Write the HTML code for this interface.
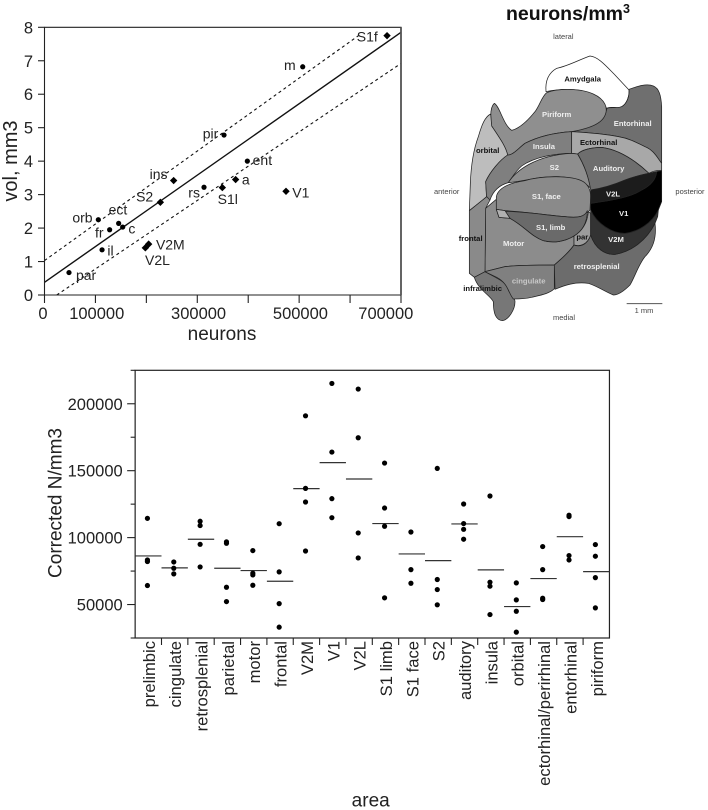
<!DOCTYPE html>
<html>
<head>
<meta charset="utf-8">
<title>Neuron density charts</title>
<style>
html,body{margin:0;padding:0;background:#fff;}
svg{display:block;font-family:"Liberation Sans",Arial,sans-serif;}
text{fill:#222;}
.b text{font-weight:bold;font-size:23px;text-anchor:middle;dominant-baseline:central;}
.b .w{fill:#efefef;}
.b .k{fill:#111;}
.b .n{font-weight:normal;font-size:22.5px;fill:#444;}
.b path{stroke:#222;stroke-width:2.2;stroke-linejoin:round;}
</style>
</head>
<body>
<svg id="fig" xmlns="http://www.w3.org/2000/svg" width="708" height="810" viewBox="0 0 708 810">
  <rect width="708" height="810" fill="#fff"/>
  <g id="scatter"></g>
  <g id="strip"></g>

  <text x="506" y="20" font-size="19.5" font-weight="bold" fill="#111" style="fill:#111">neurons/mm<tspan dy="-7" font-size="12.5">3</tspan></text>

  <g class="b" transform="translate(425,0) scale(0.33333)">
    <path fill="#ffffff" d="M363,275 C360,240 372,218 395,205 C430,198 465,178 495,168 C520,170 545,200 570,225 L612,270 C614,295 600,318 585,322 C570,325 555,318 545,325 C530,300 505,280 470,272 C430,265 395,268 363,275Z"/>
    <path fill="#6f6f6f" d="M612,268 C640,258 665,250 685,258 C702,265 708,285 710,320 L710,490 C695,470 685,450 660,440 C630,425 610,415 580,410 C540,402 490,398 440,395 C490,385 525,370 540,345 L546,325 C560,320 575,326 590,320 C605,312 614,290 612,268Z"/>
    <path fill="#8f8f8f" d="M365,278 C400,264 470,265 505,282 C540,298 552,325 538,350 C525,375 480,388 440,395 C390,398 340,410 300,430 C280,445 265,465 248,465 C242,440 228,420 200,378 C195,345 197,320 208,310 C225,320 235,375 260,391 C285,385 310,360 330,335 C345,315 350,290 365,278Z"/>
    <path fill="#bdbdbd" d="M197,342 C180,350 170,375 160,410 C145,450 138,500 136,550 L133,632 C150,618 170,605 185,590 L182,545 C195,515 225,480 248,465 C242,440 228,420 200,378 Z"/>
    <path fill="#7f7f7f" d="M248,465 C265,465 280,445 300,430 C340,410 390,398 440,395 L440,460 C395,460 330,470 290,498 C270,515 260,535 250,548 C225,555 205,570 195,600 L185,600 L182,545 C195,515 225,480 248,465Z"/>
    <path fill="#a8a8a8" d="M440,395 C490,398 540,402 580,410 C610,415 630,425 660,440 C685,450 695,470 710,490 L710,512 C695,510 680,515 672,520 C640,490 590,450 530,442 C500,442 470,450 458,462 L440,460 Z"/>
    <path fill="#8e8e8e" d="M250,548 C270,515 330,465 440,460 L458,462 C475,490 490,525 497,565 C480,545 440,532 400,530 C350,527 290,545 250,548Z"/>
    <path fill="#8c8c8c" d="M182,625 L214,598 L214,628 L222,652 L255,655 C300,680 320,710 355,722 C385,730 420,725 447,708 L447,735 C430,760 405,780 388,795 C340,795 280,795 240,800 L180,815 Z"/>
    <path fill="#8a8a8a" d="M133,632 L185,590 L195,600 L182,625 L180,815 L148,832 L133,820Z"/>
    <path fill="#8a8a8a" d="M214,590 C220,560 260,548 300,542 C350,527 440,525 475,545 C490,555 497,570 497,590 L495,630 C480,650 460,655 420,650 C360,645 300,635 240,632 L214,628 Z"/>
    <path fill="#6a6a6a" d="M240,634 C300,635 360,645 420,650 C460,655 480,650 487,632 C487,670 470,695 447,708 C420,725 385,730 355,722 C320,710 300,680 255,655 Z"/>
    <path fill="#b0b0b0" d="M214,628 L240,632 L255,655 L222,652 Z"/>
    <path fill="#777777" d="M148,832 L180,815 C215,835 245,845 250,870 C255,885 270,890 270,905 C270,930 250,960 232,962 C212,960 205,940 205,905 C195,885 160,870 148,832Z"/>
    <path fill="#808080" d="M180,815 L240,800 C280,795 340,795 388,795 L388,866 C375,880 350,885 320,892 C300,897 280,897 265,897 C250,880 250,850 215,832 Z"/>
    <path fill="#6c6c6c" d="M388,795 C405,780 430,760 447,735 C460,740 485,740 497,705 C510,745 540,765 570,763 C620,755 665,720 690,670 C695,710 685,745 660,770 C640,795 630,830 615,855 C600,870 580,885 565,885 C540,875 520,860 490,850 C450,845 420,855 390,868 Z"/>
    <path fill="#9c9c9c" d="M447,708 C470,695 487,670 490,635 L497,640 L497,705 C487,735 465,740 447,735Z"/>
    <path fill="#6e6e6e" d="M458,462 C470,450 500,442 530,442 C590,450 640,490 672,520 C640,525 600,540 565,555 C540,565 520,568 497,570 C490,525 475,490 458,462Z"/>
    <path fill="#333333" d="M497,630 C515,670 560,700 600,700 C640,695 680,670 700,630 L698,650 L690,670 C665,720 620,755 570,763 C540,765 510,745 497,705Z"/>
    <path fill="#000000" stroke="none" d="M497,610 C570,600 620,590 650,570 C680,555 693,535 695,515 L710,512 L710,605 L700,630 C680,670 640,695 600,700 C560,700 515,670 497,630 Z"/>
    <path fill="#1c1c1c" d="M497,570 C530,565 565,555 600,540 C640,525 670,520 695,515 C693,535 680,555 650,570 C620,590 570,600 497,610 Z"/>

    <text class="k" x="473" y="237">Amydgala</text>
    <text class="w" x="395" y="343">Piriform</text>
    <text class="w" x="623" y="370">Entorhinal</text>
    <text class="k" x="521" y="427">Ectorhinal</text>
    <text class="w" x="357" y="440">Insula</text>
    <text class="k" x="188" y="452">orbital</text>
    <text class="w" x="388" y="502">S2</text>
    <text class="w" x="551" y="505">Auditory</text>
    <text class="w" x="564" y="582">V2L</text>
    <text class="w" x="364" y="590">S1, face</text>
    <text class="w" x="596" y="640">V1</text>
    <text class="w" x="377" y="682">S1, limb</text>
    <text class="k" x="472" y="711">par</text>
    <text class="k" x="137" y="716">frontal</text>
    <text class="w" x="573" y="718">V2M</text>
    <text class="w" x="266" y="730">Motor</text>
    <text class="w" x="515" y="800">retrosplenial</text>
    <text class="w" x="311" y="843" style="fill:#c8c8c8">cingulate</text>
    <text class="k" x="173" y="865">infralimbic</text>

    <text class="n" x="415" y="110">lateral</text>
    <text class="n" x="65" y="575">anterior</text>
    <text class="n" x="795" y="575">posterior</text>
    <text class="n" x="417" y="953">medial</text>
    <line x1="605" x2="712" y1="911" y2="911" stroke="#555" stroke-width="3"/>
    <text class="n" x="657" y="932">1 mm</text>
  </g>
</svg>

<script>
// ---- scatter data ----
const pointNames = ["par","il","fr","ect","c","orb","S2","ins","rs","S1l","a","ent","pir","V1","m","S1f","V2M","V2L"];
const pointNeurons = [48100,113000,127900,145600,153500,105700,227500,253600,313200,349200,375300,398300,352500,474200,507000,672600,204500,198000];
const pointVolumes = [0.67,1.35,1.95,2.14,2.03,2.25,2.77,3.42,3.22,3.21,3.45,4.0,4.78,3.1,6.82,7.75,1.52,1.41];
const pointIsDiamond = [0,0,0,0,0,0,1,1,0,1,1,0,0,1,0,1,1,1];
const fitX = [0,700000];
const fitY = [0.38,7.85];
const upperX = [0,620000];
const upperY = [1.03,7.79];
const lowerX = [24000,700000];
const lowerY = [0,6.92];
const scatterXTicks = [0,100000,200000,300000,400000,500000,600000,700000];
const scatterXLabels = ["0","100000","","300000","","500000","","700000"];
const scatterYTicks = [0,1,2,3,4,5,6,7,8];

// ---- strip plot data ----
const areas = ["prelimbic","cingulate","retrosplenial","parietal","motor","frontal","V2M","V1","V2L","S1 limb","S1 face","S2","auditory","insula","orbital","ectorhinal/perirhinal","entorhinal","piriform"];
const areaMeans = [86300,77400,98800,77100,75400,67400,136600,156000,143800,110500,87800,82800,110200,75900,48500,69400,100700,74600];
const areaValues = [
  [114400,83300,82100,64200],
  [81800,77100,72900],
  [112200,109000,95000,78100],
  [96800,95800,62900,52200],
  [90300,73400,72100,64400],
  [110400,74400,50700,33100],
  [191000,136800,126600,90000],
  [215200,163900,129100,114900],
  [211000,174600,103500,84800],
  [155700,122100,108500,55000],
  [104200,76100,65900],
  [151700,68700,61200,49800],
  [125100,110500,106200,98800],
  [131100,66700,63700,42500],
  [66200,53500,45000,29400],
  [93300,76100,54700,53700],
  [116700,115700,86600,83300],
  [94800,86100,70100,47500]
];
const stripYTicks = [25000,50000,75000,100000,125000,150000,175000,200000,225000];
const stripYLabels = ["","50000","","100000","","150000","","200000",""];

// ---- layout (not data): label nudges relative to each point ----
const labelNudge = {par:[7,7.3],il:[5.3,5.7],fr:[-14.7,7.7],ect:[-10,-9],c:[5.7,6.3],orb:[-26,2.7],S2:[-24.3,-0.7],ins:[-24,-1.7],rs:[-15.7,10],S1l:[-4.7,16.3],a:[6.3,4.7],ent:[5.3,4],pir:[-21.3,3.7],V1:[6.3,6],m:[-18.7,3.3],S1f:[-30.3,6],V2M:[7.3,5.3],V2L:[-0.3,17.3]};

const NS = "http://www.w3.org/2000/svg";
function make(parent, tag, attrs, txt) {
  const el = document.createElementNS(NS, tag);
  for (const k in attrs) el.setAttribute(k, attrs[k]);
  if (txt !== undefined) el.textContent = txt;
  parent.appendChild(el);
  return el;
}

// ---- scatter axes ----
const sx = v => 44.5 + v / 700000 * 356.5;
const sy = v => 295 - v / 8 * 267.7;
const sg = document.getElementById("scatter");

function drawLine(xs, ys, name, dash) {
  const el = make(sg, "line", {x1:sx(xs[0]), y1:sy(ys[0]), x2:sx(xs[1]), y2:sy(ys[1]), stroke:"#111", "stroke-width":dash ? 1.1 : 1.4, "stroke-dasharray":dash ? "3 3" : "none"});
  
  
}
drawLine(upperX, upperY, 'upper-confidence-line', true);
drawLine(lowerX, lowerY, 'lower-confidence-line', true);
drawLine(fitX, fitY, 'regression-line', false);

const sFrame = make(sg, "path", {d:`M${sx(0)},${sy(8)}H${sx(700000)}V${sy(0)}H${sx(0)}Z`, fill:"none", stroke:"#222", "stroke-width":1.1});


const sRight = make(sg, "line", {x1:sx(700000), x2:sx(700000), y1:sy(8), y2:sy(0), stroke:"#555", "stroke-width":1.8});



scatterXTicks.forEach((t, i) => {
  const tick = make(sg, "line", {x1:sx(t), x2:sx(t), y1:295, y2:303, stroke:"#222", "stroke-width":1.1});
  
  
  if (scatterXLabels[i]) {
    const shift = t === 700000 ? -15.2 : (t === 0 ? -1.5 : 1.3);
    const lab = make(sg, "text", {x:sx(t) + shift, y:319, "font-size":16.5, "text-anchor":"middle"}, scatterXLabels[i]);
    
    
  }
});
scatterYTicks.forEach(t => {
  const tick = make(sg, "line", {x1:38, x2:44.5, y1:sy(t), y2:sy(t), stroke:"#222", "stroke-width":1.1});
  
  
  const lab = make(sg, "text", {x:33, y:sy(t) + 6, "font-size":16.5, "text-anchor":"end"}, String(t));
  
  
});
const sxTitle = make(sg, "text", {x:222, y:340, "font-size":19, "text-anchor":"middle"}, "neurons");


const syTitle = make(sg, "text", {x:0, y:0, "font-size":20, "text-anchor":"middle", transform:"translate(17,161) rotate(-90)"}, "vol, mm3");



pointNames.forEach((name, i) => {
  const px = sx(pointNeurons[i]), py = sy(pointVolumes[i]);
  let mark;
  if (pointIsDiamond[i]) {
    const r = 3.7;
    mark = make(sg, "polygon", {points:`${px},${py-r} ${px+r},${py} ${px},${py+r} ${px-r},${py}`, fill:"#000"});
  } else {
    mark = make(sg, "circle", {cx:px, cy:py, r:2.6, fill:"#000"});
  }
  
  
  const n = labelNudge[name];
  const lab = make(sg, "text", {x:px + n[0], y:py + n[1], "font-size":14}, name);
  
  
});

// ---- strip plot axes ----
const by = v => 638 - (v - 25000) / 200000 * 267.7;
const bandLeft = 135.15, bandW = 26.35;
const bx = i => bandLeft + bandW * (i + 0.5);
const bg = document.getElementById("strip");

const bFrame = make(bg, "rect", {x:bandLeft, y:by(225000), width:bandW * 18, height:by(25000) - by(225000), fill:"none", stroke:"#222", "stroke-width":1.2});



stripYTicks.forEach((t, i) => {
  const major = stripYLabels[i] !== "";
  const tick = make(bg, "line", {x1:bandLeft - (major ? 8 : 4.5), x2:bandLeft, y1:by(t), y2:by(t), stroke:"#222", "stroke-width":1.1});
  
  
  if (major) {
    const lab = make(bg, "text", {x:122.7, y:by(t) + 6, "font-size":16.5, "text-anchor":"end"}, stripYLabels[i]);
    
    
  }
});
const byTitle = make(bg, "text", {x:0, y:0, "font-size":19, "text-anchor":"middle", transform:"translate(61.7,503) rotate(-90)"}, "Corrected N/mm3");


const bxTitle = make(bg, "text", {x:370.7, y:806.5, "font-size":19, "text-anchor":"middle"}, "area");



areas.forEach((area, i) => {
  if (i < areas.length - 1) {
    const tick = make(bg, "line", {x1:bx(i) + bandW / 2, x2:bx(i) + bandW / 2, y1:638, y2:645, stroke:"#222", "stroke-width":1.1});
    
    
  }
  const lab = make(bg, "text", {x:0, y:0, "font-size":16.6, "text-anchor":"end", transform:`translate(${bx(i) + 6.5},641) rotate(-90)`}, area);
  
  
  const mean = make(bg, "line", {x1:bx(i) - bandW / 2, x2:bx(i) + bandW / 2, y1:by(areaMeans[i]), y2:by(areaMeans[i]), stroke:"#333", "stroke-width":1.2});
  
  
  areaValues[i].forEach(v => {
    const dot = make(bg, "circle", {cx:bx(i) - 0.9, cy:by(v), r:2.6, fill:"#000"});
    
    
  });
});
</script>
</body>
</html>
